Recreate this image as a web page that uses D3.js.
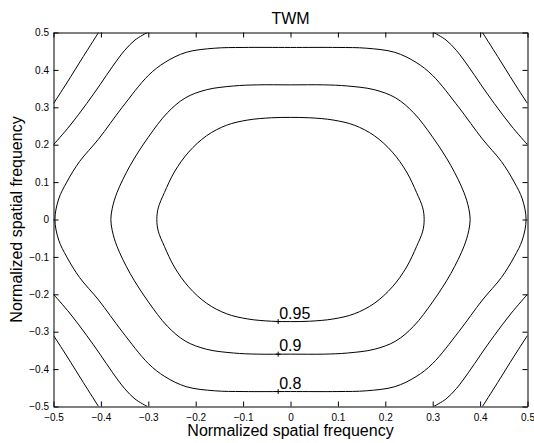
<!DOCTYPE html>
<html>
<head>
<meta charset="utf-8">
<script src="https://cdn.jsdelivr.net/npm/d3@7"></script>
<style>
  body { margin: 0; background: #fff; }
  svg { display: block; }
</style>
</head>
<body>
<div id="canvas"></div>
<script>
// tick labels
const xTicks = [-0.5, -0.4, -0.3, -0.2, -0.1, 0, 0.1, 0.2, 0.3, 0.4, 0.5];
const yTicks = [-0.5, -0.4, -0.3, -0.2, -0.1, 0, 0.1, 0.2, 0.3, 0.4, 0.5];

// closed contours
const contour95 = [
  [0, 0.273], [0.04, 0.272], [0.09, 0.266], [0.135, 0.252], [0.177, 0.224], [0.215, 0.18], [0.245, 0.127], [0.266, 0.072], [0.279, 0.031],
  [0.282, 0],
  [0.279, -0.031], [0.266, -0.072], [0.245, -0.127], [0.215, -0.18], [0.177, -0.224], [0.135, -0.252], [0.09, -0.266], [0.04, -0.272],
  [0, -0.273],
  [-0.04, -0.272], [-0.09, -0.266], [-0.135, -0.252], [-0.177, -0.224], [-0.215, -0.18], [-0.245, -0.127], [-0.266, -0.072], [-0.279, -0.031],
  [-0.282, 0],
  [-0.279, 0.031], [-0.266, 0.072], [-0.245, 0.127], [-0.215, 0.18], [-0.177, 0.224], [-0.135, 0.252], [-0.09, 0.266], [-0.04, 0.272]
];

const contour90 = [
  [0, 0.36], [0.07, 0.36], [0.12, 0.357], [0.177, 0.347], [0.222, 0.325], [0.26, 0.285], [0.3, 0.22], [0.338, 0.145], [0.366, 0.072], [0.376, 0.03],
  [0.379, 0],
  [0.376, -0.03], [0.366, -0.072], [0.338, -0.145], [0.3, -0.22], [0.26, -0.285], [0.222, -0.325], [0.177, -0.347], [0.12, -0.357], [0.07, -0.36],
  [0, -0.36],
  [-0.07, -0.36], [-0.12, -0.357], [-0.177, -0.347], [-0.222, -0.325], [-0.26, -0.285], [-0.3, -0.22], [-0.338, -0.145], [-0.366, -0.072], [-0.376, -0.03],
  [-0.379, 0],
  [-0.376, 0.03], [-0.366, 0.072], [-0.338, 0.145], [-0.3, 0.22], [-0.26, 0.285], [-0.222, 0.325], [-0.177, 0.347], [-0.12, 0.357], [-0.07, 0.36]
];

const contour80 = [
  [0, 0.46], [0.1, 0.46], [0.16, 0.458], [0.22, 0.447], [0.265, 0.42], [0.3, 0.385], [0.355, 0.3], [0.405, 0.215], [0.445, 0.155], [0.472, 0.1], [0.489, 0.055],
  [0.497, 0],
  [0.489, -0.055], [0.472, -0.1], [0.445, -0.155], [0.405, -0.215], [0.355, -0.3], [0.3, -0.385], [0.265, -0.42], [0.22, -0.447], [0.16, -0.458], [0.1, -0.46],
  [0, -0.46],
  [-0.1, -0.46], [-0.16, -0.458], [-0.22, -0.447], [-0.265, -0.42], [-0.3, -0.385], [-0.355, -0.3], [-0.405, -0.215], [-0.445, -0.155], [-0.472, -0.1], [-0.489, -0.055],
  [-0.497, 0],
  [-0.489, 0.055], [-0.472, 0.1], [-0.445, 0.155], [-0.405, 0.215], [-0.355, 0.3], [-0.3, 0.385], [-0.265, 0.42], [-0.22, 0.447], [-0.16, 0.458], [-0.1, 0.46]
];

// open contours in the four corners
const cornerOuter = [
  [[0.405, 0.5], [0.437, 0.436], [0.472, 0.365], [0.5, 0.31]],
  [[-0.405, 0.5], [-0.437, 0.436], [-0.472, 0.365], [-0.5, 0.31]],
  [[0.405, -0.5], [0.437, -0.436], [0.472, -0.365], [0.5, -0.31]],
  [[-0.405, -0.5], [-0.437, -0.436], [-0.472, -0.365], [-0.5, -0.31]]
];
const cornerInner = [
  [[0.302, 0.5], [0.328, 0.48], [0.35, 0.452], [0.375, 0.41], [0.402, 0.36], [0.43, 0.31], [0.466, 0.25], [0.5, 0.2]],
  [[-0.302, 0.5], [-0.328, 0.48], [-0.35, 0.452], [-0.375, 0.41], [-0.402, 0.36], [-0.43, 0.31], [-0.466, 0.25], [-0.5, 0.2]],
  [[0.302, -0.5], [0.328, -0.48], [0.35, -0.452], [0.375, -0.41], [0.402, -0.36], [0.43, -0.31], [0.466, -0.25], [0.5, -0.2]],
  [[-0.302, -0.5], [-0.328, -0.48], [-0.35, -0.452], [-0.375, -0.41], [-0.402, -0.36], [-0.43, -0.31], [-0.466, -0.25], [-0.5, -0.2]]
];

// contour labels
const labelText = ["0.95", "0.9", "0.8"];
const labelX = [-0.026, -0.026, -0.026];
const labelY = [-0.273, -0.36, -0.46];

let margin = { top: 32.5, right: 6.5, bottom: 36.5, left: 53.5 },
  width = 534 - margin.left - margin.right,
  height = 443 - margin.top - margin.bottom;

const font = "'Liberation Sans', Arial, Helvetica, sans-serif";

let root = d3
  .select("#canvas")
  .append("svg")
  .attr("width", 534)
  .attr("height", 443);

let svg = root.append("g")
  .attr("transform", "translate(" + margin.left + "," + margin.top + ")");

let xScale = d3.scaleLinear().domain([-0.5, 0.5]).range([0, width]);
let yScale = d3.scaleLinear().domain([-0.5, 0.5]).range([height, 0]);

svg.append("clipPath").attr("id", "plot-clip")
  .append("rect").attr("width", width).attr("height", height);

// contour lines
let closedLine = d3.line()
  .x(d => xScale(d[0]))
  .y(d => yScale(d[1]))
  .curve(d3.curveCatmullRomClosed);

let openLine = d3.line()
  .x(d => xScale(d[0]))
  .y(d => yScale(d[1]))
  .curve(d3.curveCatmullRom);

let lines = svg.append("g").attr("clip-path", "url(#plot-clip)")
  .attr("fill", "none").attr("stroke", "#000").attr("stroke-width", 1);

lines.selectAll(".closed")
  .data([contour95, contour90, contour80])
  .enter()
  .append("path")
  .attr("class", "closed")
  .attr("d", closedLine);

lines.selectAll(".open")
  .data(cornerOuter.concat(cornerInner))
  .enter()
  .append("path")
  .attr("class", "open")
  .attr("d", openLine);

// label markers and text
labelText.forEach(function (t, i) {
  let cx = xScale(labelX[i]), cy = yScale(labelY[i]);
  svg.append("path")
    .attr("d", "M" + (cx - 2.5) + "," + cy + "H" + (cx + 2.5) + "M" + cx + "," + (cy - 2.5) + "V" + (cy + 2.5))
    .attr("stroke", "#000").attr("stroke-width", 1);
  svg.append("text")
    .attr("x", cx + 1)
    .attr("y", cy - 3)
    .style("font-family", font)
    .style("font-size", "16px")
    .text(t);
});

// axes with inward ticks on all sides
let fmt = d3.format("~g");

function styleAxis(g) {
  g.attr("font-family", font).attr("font-size", 10);
  g.selectAll("path, line").attr("stroke", "#000");
  g.selectAll("text").attr("fill", "#000");
}

svg.append("g")
  .attr("transform", "translate(0," + height + ")")
  .call(d3.axisBottom(xScale).tickValues(xTicks).tickFormat(fmt)
    .tickSizeInner(-5).tickSizeOuter(0).tickPadding(7.5))
  .call(styleAxis);

svg.append("g")
  .call(d3.axisLeft(yScale).tickValues(yTicks).tickFormat(fmt)
    .tickSizeInner(-5).tickSizeOuter(0).tickPadding(4.5))
  .call(styleAxis);

svg.append("g")
  .call(d3.axisTop(xScale).tickValues(xTicks).tickFormat("")
    .tickSizeInner(-5).tickSizeOuter(0))
  .call(styleAxis);

svg.append("g")
  .attr("transform", "translate(" + width + ",0)")
  .call(d3.axisRight(yScale).tickValues(yTicks).tickFormat("")
    .tickSizeInner(-5).tickSizeOuter(0))
  .call(styleAxis);

// title and axis labels
svg.append("text")
  .attr("x", width / 2)
  .attr("y", 24 - margin.top)
  .attr("text-anchor", "middle")
  .style("font-family", font)
  .style("font-size", "16px")
  .text("TWM");

svg.append("text")
  .attr("x", width / 2)
  .attr("y", 436 - margin.top)
  .attr("text-anchor", "middle")
  .style("font-family", font)
  .style("font-size", "16px")
  .text("Normalized spatial frequency");

svg.append("text")
  .attr("transform", "translate(" + (22 - margin.left) + "," + (height / 2) + ") rotate(-90)")
  .attr("text-anchor", "middle")
  .style("font-family", font)
  .style("font-size", "16px")
  .text("Normalized spatial frequency");
</script>
</body>
</html>
